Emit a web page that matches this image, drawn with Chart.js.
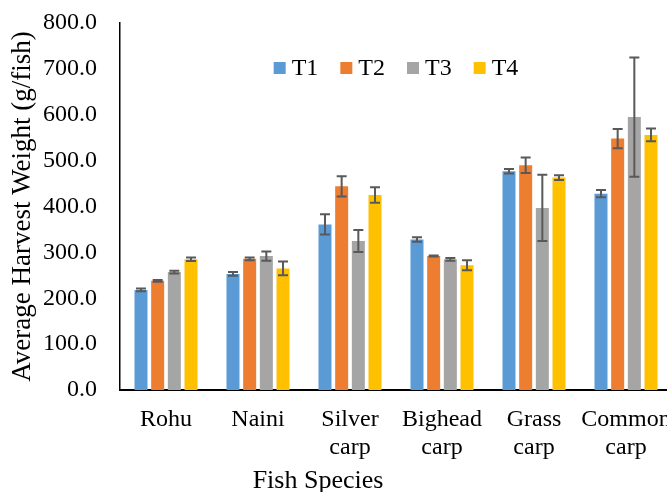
<!DOCTYPE html>
<html>
<head>
<meta charset="utf-8">
<script src="https://cdn.jsdelivr.net/npm/chart.js@4.4.0/dist/chart.umd.min.js"></script>
<style>
  html, body { margin: 0; padding: 0; background: #fff; overflow: hidden; }
  #wrap { width: 680px; height: 500px; }
</style>
</head>
<body>
<div id="wrap"><canvas id="c" width="680" height="500"></canvas></div>
<script>
const categories = [["Rohu"], ["Naini"], ["Silver", "carp"], ["Bighead", "carp"], ["Grass", "carp"], ["Common", "carp"]];
const seriesNames = ["T1", "T2", "T3", "T4"];
const t1 = [218, 253, 361, 328, 477, 428];
const t2 = [238, 286, 444, 292, 490, 548];
const t3 = [257, 292, 325, 285, 397, 595];
const t4 = [285, 265, 425, 272, 463, 556];
const e1 = [3, 4, 22, 5, 5, 8];
const e2 = [2, 3, 22, 1, 17, 21];
const e3 = [3, 10, 24, 3, 72, 130];
const e4 = [4, 15, 17, 11, 5, 14];
const yTicks = [0, 100, 200, 300, 400, 500, 600, 700, 800];
const xTitle = "Fish Species";
const yTitle = "Average Harvest Weight (g/fish)";

const colors = ["#5B9BD5", "#ED7D31", "#A5A5A5", "#FFC000"];
const values = [t1, t2, t3, t4];
const errors = [e1, e2, e3, e4];
const FONT = "'Liberation Serif', 'Times New Roman', serif";

const errorBarPlugin = {
  id: 'errorBars',
  afterDatasetsDraw(chart) {
    const ctx = chart.ctx;
    const y = chart.scales.y;
    ctx.save();
    ctx.strokeStyle = '#595959';
    ctx.lineWidth = 2;
    chart.data.datasets.forEach((ds, di) => {
      const meta = chart.getDatasetMeta(di);
      meta.data.forEach((bar, i) => {
        const v = ds.data[i], err = ds.errors[i];
        const top = y.getPixelForValue(v + err);
        const bot = y.getPixelForValue(v - err);
        const x = bar.x, half = 5;
        ctx.beginPath();
        ctx.moveTo(x, top); ctx.lineTo(x, bot);
        ctx.moveTo(x - half, top); ctx.lineTo(x + half, top);
        ctx.moveTo(x - half, bot); ctx.lineTo(x + half, bot);
        ctx.stroke();
      });
    });
    ctx.restore();
  }
};

const legendPlugin = {
  id: 'innerLegend',
  afterDraw(chart) {
    const ctx = chart.ctx;
    const area = chart.chartArea;
    ctx.save();
    ctx.font = "24px " + FONT;
    ctx.textBaseline = 'middle';
    ctx.textAlign = 'left';
    const box = 12, gapText = 6, gapItem = 22;
    const widths = chart.data.datasets.map(ds => box + gapText + ctx.measureText(ds.label).width);
    const total = widths.reduce((a, b) => a + b, 0) + gapItem * (widths.length - 1);
    let x = (area.left + area.right) / 2 - total / 2;
    const yc = area.top + 45;
    chart.data.datasets.forEach((ds, i) => {
      ctx.fillStyle = ds.backgroundColor;
      ctx.fillRect(x, yc - box / 2, box, box);
      ctx.fillStyle = '#000';
      ctx.fillText(ds.label, x + box + gapText, yc + 1);
      x += widths[i] + gapItem;
    });
    ctx.restore();
  }
};

const xTitlePlugin = {
  id: 'xTitle',
  afterDraw(chart) {
    const ctx = chart.ctx;
    ctx.save();
    ctx.font = "26px " + FONT;
    ctx.fillStyle = '#000';
    ctx.textAlign = 'center';
    ctx.textBaseline = 'middle';
    ctx.fillText(xTitle, 318, chart.chartArea.bottom + 91);
    ctx.restore();
  }
};

new Chart(document.getElementById('c'), {
  type: 'bar',
  data: {
    labels: categories,
    datasets: seriesNames.map((n, i) => ({
      label: n,
      data: values[i],
      errors: errors[i],
      backgroundColor: colors[i],
      borderWidth: 0,
      categoryPercentage: 0.725,
      barPercentage: 0.78
    }))
  },
  options: {
    responsive: false,
    animation: false,
    layout: { padding: { top: 23, right: 8, left: 0, bottom: 0 } },
    plugins: {
      tooltip: { enabled: false },
      legend: { display: false }
    },
    scales: {
      x: {
        grid: { display: false, drawTicks: true, tickLength: 13 },
        border: { display: true, color: '#000', width: 2 },
        ticks: {
          color: '#000', padding: 3, autoSkip: false, maxRotation: 0, minRotation: 0,
          font: { family: FONT, size: 24, lineHeight: 1.15 }
        },
        title: { display: false },
        afterFit(scale) { scale.height = 110; }
      },
      y: {
        min: 0, max: 800,
        afterBuildTicks(scale) { scale.ticks = yTicks.map(v => ({ value: v })); },
        grid: { display: false, drawTicks: true, tickLength: 20 },
        border: { display: true, color: '#000', width: 1.5 },
        ticks: {
          color: '#000', padding: 3,
          font: { family: FONT, size: 24 },
          callback: v => Number(v).toFixed(1)
        },
        title: {
          display: true, text: yTitle, color: '#000',
          font: { family: FONT, size: 27, lineHeight: 1.2 },
          padding: { top: 7, bottom: 0 }
        },
        afterFit(scale) { scale.width = 120; }
      }
    }
  },
  plugins: [errorBarPlugin, legendPlugin, xTitlePlugin]
});
</script>
</body>
</html>
